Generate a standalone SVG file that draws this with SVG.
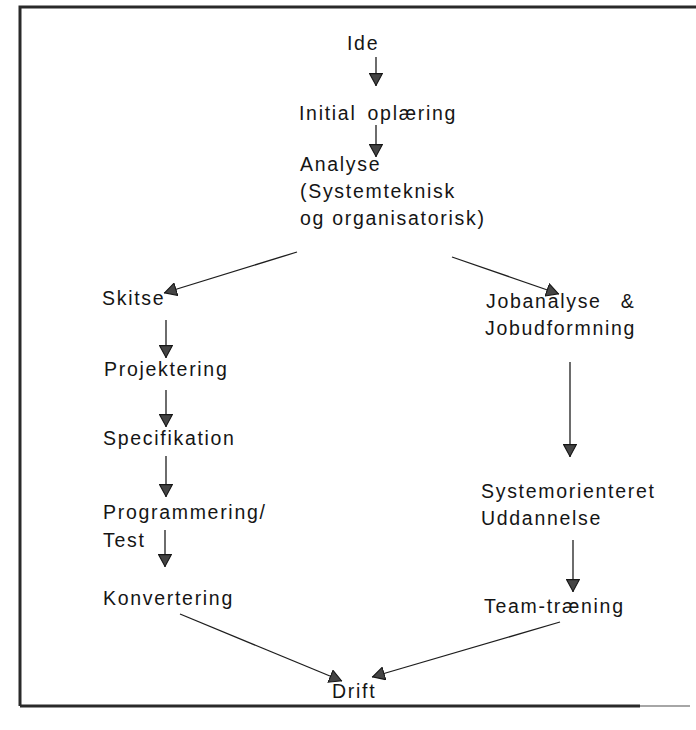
<svg xmlns="http://www.w3.org/2000/svg" width="696" height="730" viewBox="0 0 696 730">
  <defs>
    <marker id="tip" viewBox="0 0 13 14" refX="13" refY="7" markerWidth="13" markerHeight="14" markerUnits="userSpaceOnUse" orient="auto">
      <path d="M0.6,0.6 L12.4,7 L0.6,13.4 Z" fill="#444" stroke="#161616" stroke-width="1.1" stroke-linejoin="miter"/>
    </marker>
    <style>
      text { font-family: "Liberation Sans", Arial, sans-serif; font-size: 19.5px; fill: #151515; letter-spacing: 1.7px; }
      .edge { stroke: #1e1e1e; stroke-width: 1.3; fill: none; marker-end: url(#tip); }
      .frame { stroke: #2a2a2a; stroke-width: 3; fill: none; }
    </style>
  </defs>

  <!-- page frame -->
  <g id="frame">
    <path class="frame" d="M20,706 L20,7 L696,7"/>
    <path class="frame" d="M20,706 L640,706"/>
    <path d="M640,706 L690,706" stroke="#888" stroke-width="1.5"/>
  </g>

  <!-- connectors -->
  <g id="connectors">
    <line class="edge" x1="376" y1="57" x2="376" y2="86"/>
    <line class="edge" x1="376" y1="125" x2="376" y2="157"/>
    <line class="edge" x1="297" y1="252" x2="164" y2="293"/>
    <line class="edge" x1="452" y1="257" x2="559" y2="294"/>
    <line class="edge" x1="166" y1="320" x2="166" y2="358"/>
    <line class="edge" x1="166" y1="390" x2="166" y2="427"/>
    <line class="edge" x1="166" y1="456" x2="166" y2="497"/>
    <line class="edge" x1="165" y1="530" x2="165" y2="567"/>
    <line class="edge" x1="180" y1="614" x2="342" y2="681"/>
    <line class="edge" x1="570" y1="362" x2="570" y2="457"/>
    <line class="edge" x1="573" y1="540" x2="573" y2="592"/>
    <line class="edge" x1="560" y1="622" x2="372" y2="677"/>
  </g>

  <!-- nodes -->
  <g id="ide"><text x="347" y="50">Ide</text></g>
  <g id="initial-oplaering"><text x="299" y="120">Initial <tspan dx="4">oplæring</tspan></text></g>
  <g id="analyse">
    <text x="300" y="171">Analyse</text>
    <text x="300" y="198">(Systemteknisk</text>
    <text x="300" y="225">og organisatorisk)</text>
  </g>
  <g id="skitse"><text x="102" y="305">Skitse</text></g>
  <g id="projektering"><text x="104" y="376">Projektering</text></g>
  <g id="specifikation"><text x="103" y="445">Specifikation</text></g>
  <g id="programmering-test">
    <text x="103" y="519">Programmering/</text>
    <text x="103" y="547">Test</text>
  </g>
  <g id="konvertering"><text x="103" y="605">Konvertering</text></g>
  <g id="jobanalyse">
    <text x="486" y="308">Jobanalyse <tspan dx="12">&amp;</tspan></text>
    <text x="485" y="335">Jobudformning</text>
  </g>
  <g id="systemorienteret">
    <text x="481" y="498">Systemorienteret</text>
    <text x="481" y="525">Uddannelse</text>
  </g>
  <g id="team-traening"><text x="484" y="613">Team-træning</text></g>
  <g id="drift"><text x="332" y="698">Drift</text></g>
</svg>
